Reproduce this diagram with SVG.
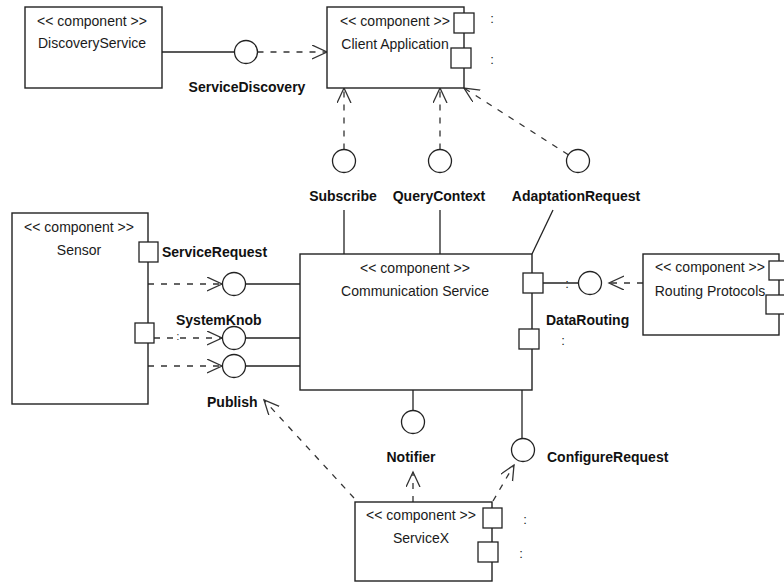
<svg xmlns="http://www.w3.org/2000/svg" width="784" height="582" viewBox="0 0 784 582">
<style>
  .box { fill: #fff; stroke: #222; stroke-width: 1.4; }
  .port { fill: #fff; stroke: #222; stroke-width: 1.3; }
  .iface { fill: #fff; stroke: #222; stroke-width: 1.3; }
  .solid { fill: none; stroke: #222; stroke-width: 1.3; }
  .dash { fill: none; stroke: #333; stroke-width: 1.3; stroke-dasharray: 6 7; }
  .head { fill: none; stroke: #333; stroke-width: 1.3; stroke-dasharray: none; }
  .t { font-family: "Liberation Sans", Arial, sans-serif; font-size: 14px; fill: #1a1a1a; text-anchor: middle; }
  .lbl { font-family: "Liberation Sans", Arial, sans-serif; font-size: 14px; font-weight: bold; fill: #111; }
  .mid { text-anchor: middle; }
  .colon { font-family: "Liberation Sans", Arial, sans-serif; font-size: 13px; fill: #222; text-anchor: middle; }
  .small { font-size: 10px; }
</style>
<defs>
  <marker id="open" markerUnits="userSpaceOnUse" markerWidth="18" markerHeight="18" viewBox="0 0 18 18" refX="15" refY="7" orient="auto">
    <path class="head" d="M0,0 L15,7 L0,14"/>
  </marker>
</defs>
<rect width="784" height="582" fill="#fff"/>

<g id="connectors">
  <line class="solid" x1="162" y1="52" x2="234.5" y2="52"/>
  <line class="dash" x1="257.5" y1="52" x2="327" y2="52" marker-end="url(#open)"/>
  <line class="dash" x1="344" y1="149.5" x2="344" y2="88" marker-end="url(#open)"/>
  <line class="dash" x1="440" y1="149.5" x2="440" y2="88" marker-end="url(#open)"/>
  <line class="dash" x1="568.3" y1="154.8" x2="464" y2="88" marker-end="url(#open)"/>
  <line class="solid" x1="344" y1="210" x2="344" y2="254"/>
  <line class="solid" x1="440" y1="210" x2="440" y2="254"/>
  <line class="solid" x1="553" y1="210" x2="532" y2="254"/>
  <line class="dash" x1="148" y1="284" x2="222" y2="284" marker-end="url(#open)"/>
  <line class="dash" x1="154" y1="338" x2="222" y2="338" marker-end="url(#open)"/>
  <line class="dash" x1="148" y1="366" x2="222" y2="366" marker-end="url(#open)"/>
  <line class="solid" x1="245.5" y1="284" x2="300" y2="284"/>
  <line class="solid" x1="245.5" y1="338" x2="300" y2="338"/>
  <line class="solid" x1="245.5" y1="366" x2="300" y2="366"/>
  <line class="solid" x1="543" y1="283" x2="578.5" y2="283"/>
  <line class="dash" x1="643" y1="283" x2="609" y2="283" marker-end="url(#open)"/>
  <line class="solid" x1="413" y1="390" x2="413" y2="410.5"/>
  <line class="dash" x1="413" y1="502" x2="413" y2="472" marker-end="url(#open)"/>
  <line class="solid" x1="522" y1="390" x2="522" y2="438.5"/>
  <line class="dash" x1="493" y1="501" x2="514" y2="465" marker-end="url(#open)"/>
  <line class="dash" x1="354" y1="498" x2="264" y2="400" marker-end="url(#open)"/>
</g>

<g id="DiscoveryService">
  <rect class="box" x="25" y="7" width="137" height="81"/>
  <text class="t" x="92" y="26">&lt;&lt; component &gt;&gt;</text>
  <text class="t" x="92" y="48">DiscoveryService</text>
</g>

<g id="ClientApplication">
  <rect class="box" x="327" y="7" width="137" height="81"/>
  <text class="t" x="395" y="26">&lt;&lt; component &gt;&gt;</text>
  <text class="t" x="395" y="49">Client Application</text>
  <rect class="port" x="454" y="13" width="20" height="20"/>
  <rect class="port" x="451" y="48" width="20" height="20"/>
  <text class="colon" x="492" y="23">:</text>
  <text class="colon" x="492" y="64">:</text>
</g>

<g id="Sensor">
  <rect class="box" x="12" y="213" width="136" height="191"/>
  <text class="t" x="79" y="232">&lt;&lt; component &gt;&gt;</text>
  <text class="t" x="79" y="255">Sensor</text>
  <rect class="port" x="139" y="242" width="19" height="20"/>
  <rect class="port" x="135" y="323" width="19" height="20"/>
  <text class="colon small" x="178" y="340">:</text>
</g>

<g id="CommunicationService">
  <rect class="box" x="300" y="254" width="232" height="136"/>
  <text class="t" x="415" y="273">&lt;&lt; component &gt;&gt;</text>
  <text class="t" x="415" y="296">Communication Service</text>
  <rect class="port" x="523" y="273" width="20" height="20"/>
  <rect class="port" x="519" y="329" width="20" height="20"/>
  <text class="colon" x="563" y="345">:</text>
</g>

<g id="RoutingProtocols">
  <rect class="box" x="643" y="254" width="136" height="81"/>
  <text class="t" x="710" y="272">&lt;&lt; component &gt;&gt;</text>
  <text class="t" x="710" y="296">Routing Protocols</text>
  <rect class="port" x="769" y="261" width="20" height="19"/>
  <rect class="port" x="766" y="295" width="20" height="19"/>
</g>

<g id="ServiceX">
  <rect class="box" x="355" y="502" width="137" height="79"/>
  <text class="t" x="421" y="520">&lt;&lt; component &gt;&gt;</text>
  <text class="t" x="421" y="543">ServiceX</text>
  <rect class="port" x="483" y="508" width="19" height="20"/>
  <rect class="port" x="478" y="542" width="20" height="20"/>
  <text class="colon" x="525" y="524">:</text>
  <text class="colon" x="521" y="558">:</text>
</g>

<g id="if-ServiceDiscovery">
  <circle class="iface" cx="246" cy="52" r="11.5"/>
  <text class="lbl mid" x="247" y="92">ServiceDiscovery</text>
</g>
<g id="if-Subscribe">
  <circle class="iface" cx="344" cy="161" r="11.5"/>
  <text class="lbl mid" x="343" y="201">Subscribe</text>
</g>
<g id="if-QueryContext">
  <circle class="iface" cx="440" cy="161" r="11.5"/>
  <text class="lbl mid" x="439" y="201">QueryContext</text>
</g>
<g id="if-AdaptationRequest">
  <circle class="iface" cx="578" cy="161" r="11.5"/>
  <text class="lbl mid" x="576" y="201">AdaptationRequest</text>
</g>
<g id="if-ServiceRequest">
  <circle class="iface" cx="234" cy="284" r="11.5"/>
  <text class="lbl" x="162" y="257">ServiceRequest</text>
</g>
<g id="if-SystemKnob">
  <circle class="iface" cx="234" cy="338" r="11.5"/>
  <text class="lbl" x="176" y="325">SystemKnob</text>
</g>
<g id="if-Publish">
  <circle class="iface" cx="234" cy="366" r="11.5"/>
  <text class="lbl" x="207" y="407">Publish</text>
</g>
<g id="if-DataRouting">
  <circle class="iface" cx="590" cy="283" r="11.5"/>
  <text class="colon" x="567" y="288">:</text>
  <text class="lbl" x="546" y="325">DataRouting</text>
</g>
<g id="if-Notifier">
  <circle class="iface" cx="413" cy="422" r="11.5"/>
  <text class="lbl mid" x="411" y="462">Notifier</text>
</g>
<g id="if-ConfigureRequest">
  <circle class="iface" cx="523" cy="450" r="11.5"/>
  <text class="lbl" x="547" y="462">ConfigureRequest</text>
</g>
</svg>
